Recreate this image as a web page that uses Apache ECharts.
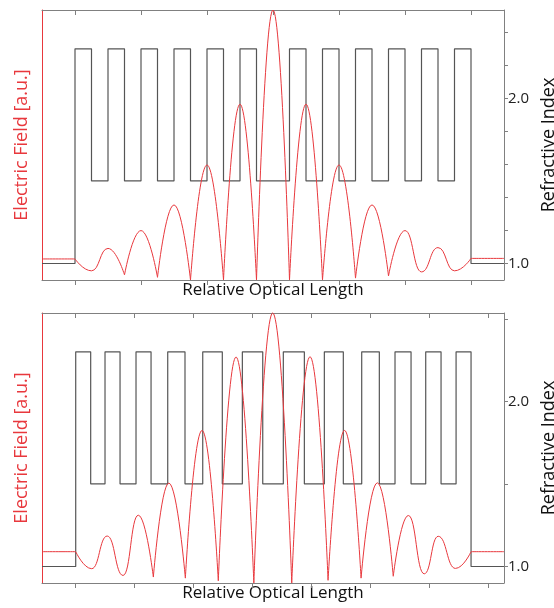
<!DOCTYPE html>
<html>
<head>
<meta charset="utf-8">
<script src="https://cdn.jsdelivr.net/npm/echarts@6/dist/echarts.min.js"></script>
<style>
  html, body { margin: 0; background: #fff; }
  #main { width: 554px; height: 608px; }
</style>
</head>
<body>
<div id="main"></div>
<script>
// upper panel: quarter-wave stack with a half-wave cavity in the middle
var topEdges = [-0.5, 0, 0.25, 0.5, 0.75, 1, 1.25, 1.5, 1.75, 2, 2.25, 2.5, 2.75,
                3.25, 3.5, 3.75, 4, 4.25, 4.5, 4.75, 5, 5.25, 5.5, 5.75, 6, 6.5];
var topIndex = [1.0, 2.3, 1.5, 2.3, 1.5, 2.3, 1.5, 2.3, 1.5, 2.3, 1.5, 2.3,
                1.5,
                2.3, 1.5, 2.3, 1.5, 2.3, 1.5, 2.3, 1.5, 2.3, 1.5, 2.3, 1.0];
var topField = [[-0.5, 0.078], [0, 0.078], [0.25, 0.034], [0.5, 0.117], [0.75, 0.019],
                [1, 0.183], [1.25, 0.010], [1.5, 0.278], [1.75, 0], [2, 0.426], [2.25, 0],
                [2.5, 0.651], [2.75, 0], [3, 1.0], [3.25, 0], [3.5, 0.651], [3.75, 0],
                [4, 0.426], [4.25, 0.007], [4.5, 0.278], [4.75, 0.015], [5, 0.183],
                [5.25, 0.030], [5.5, 0.120], [5.75, 0.034], [6, 0.080], [6.5, 0.080]];
var topTicks = [0, 1, 2, 3, 4, 5, 6];
var topIndexTicks = [1.0, 1.2, 1.4, 1.6, 1.8, 2.0, 2.2, 2.4];

// lower panel: chirped stack, layers get thicker towards the centre
var botEdges = [-0.572, 0, 0.254, 0.497, 0.752, 1.023, 1.278, 1.561, 1.854, 2.155, 2.487,
                2.827, 3.173, 3.522, 3.879, 4.218, 4.540, 4.852, 5.151, 5.417, 5.689,
                5.938, 6.198, 6.453, 6.707, 7.266];
var botIndex = [1.0, 2.3, 1.5, 2.3, 1.5, 2.3, 1.5, 2.3, 1.5, 2.3, 1.5, 2.3,
                1.5,
                2.3, 1.5, 2.3, 1.5, 2.3, 1.5, 2.3, 1.5, 2.3, 1.5, 2.3, 1.0];
var botField = [[-0.572, 0.116], [0, 0.116], [0.271, 0.053], [0.534, 0.174], [0.803, 0.028],
                [1.062, 0.251], [1.317, 0.022], [1.580, 0.370], [1.860, 0.018], [2.143, 0.565],
                [2.419, 0.008], [2.720, 0.837], [3.022, 0], [3.342, 1.0], [3.665, 0],
                [3.975, 0.838], [4.281, 0.010], [4.561, 0.565], [4.841, 0.018], [5.117, 0.371],
                [5.387, 0.025], [5.643, 0.250], [5.913, 0.034], [6.150, 0.173], [6.442, 0.054],
                [6.707, 0.116], [7.266, 0.116]];
var botTicks = [0, 1, 2, 3, 4, 5, 6, 7];
var botIndexTicks = [1.0, 1.5, 2.0, 2.5];

var indexLabels = [1.0, 2.0];

var RED = '#e8383d', GREY = '#808080', LINE = '#555';
var FONT = 'Open Sans';

function steps(edges, n) {
  var d = [];
  for (var i = 0; i < n.length; i++) d.push([edges[i], n[i]]);
  d.push([edges[edges.length - 1], n[n.length - 1]]);
  return d;
}

// break the curve at the nodes (sharp cusps) and where the stack starts/ends
function fieldLine(pts, edges) {
  var a = edges[1], b = edges[edges.length - 2], out = [];
  pts.forEach(function (p, i) {
    out.push(p);
    var brk = p[1] <= 0.025 || p[0] === a || p[0] === b;
    if (brk && i > 0 && i < pts.length - 1) {
      out.push([p[0], null]);
      out.push(p);
    }
  });
  return out;
}

function xAxes(g, edges, ticks) {
  var lo = edges[0], hi = edges[edges.length - 1];
  return [{
    type: 'value', gridIndex: g, min: lo, max: hi, position: 'bottom',
    name: 'Relative Optical Length', nameLocation: 'middle', nameGap: 2,
    nameTextStyle: { color: '#111', fontSize: 17, fontFamily: FONT, verticalAlign: 'top' },
    axisLine: { onZero: false, lineStyle: { color: GREY } },
    axisTick: { show: true, inside: false, length: 5, customValues: ticks, lineStyle: { color: GREY } },
    axisLabel: { show: false },
    splitLine: { show: false }
  }, {
    type: 'value', gridIndex: g, min: lo, max: hi, position: 'top',
    axisLine: { onZero: false, lineStyle: { color: GREY } },
    axisTick: { show: true, inside: true, length: 5, customValues: ticks, lineStyle: { color: GREY } },
    axisLabel: { show: false },
    splitLine: { show: false }
  }];
}

function yAxes(g, ticks) {
  return [{
    type: 'value', gridIndex: g, min: 0, max: 1, position: 'left',
    name: 'Electric Field [a.u.]', nameLocation: 'middle', nameGap: 11,
    nameTextStyle: { color: RED, fontSize: 18, fontFamily: FONT },
    axisLine: { show: true, onZero: false, lineStyle: { color: RED } },
    axisTick: { show: false }, axisLabel: { show: false }, splitLine: { show: false }
  }, {
    type: 'value', gridIndex: g, min: 0.9, max: 2.535, position: 'right',
    name: 'Refractive Index', nameLocation: 'middle', nameGap: 33,
    nameTextStyle: { color: '#111', fontSize: 18, fontFamily: FONT },
    axisLine: { show: true, onZero: false, lineStyle: { color: GREY } },
    axisTick: { show: true, length: 4, customValues: ticks, lineStyle: { color: GREY } },
    axisLabel: {
      show: true, margin: 4, customValues: indexLabels, color: '#222', fontSize: 15, fontFamily: FONT,
      formatter: function (v) { return v.toFixed(1); }
    },
    splitLine: { show: false }
  }];
}

var chart = echarts.init(document.getElementById('main'));
chart.setOption({
  animation: false,
  grid: [
    { left: 42, right: 50, top: 10, height: 270, outerBoundsMode: 'none' },
    { left: 42, right: 50, top: 313, height: 270, outerBoundsMode: 'none' }
  ],
  xAxis: xAxes(0, topEdges, topTicks).concat(xAxes(1, botEdges, botTicks)),
  yAxis: yAxes(0, topIndexTicks).concat(yAxes(1, botIndexTicks)),
  series: [
    { type: 'line', xAxisIndex: 0, yAxisIndex: 1, data: steps(topEdges, topIndex), step: 'end',
      symbol: 'none', lineStyle: { color: LINE, width: 1.2 } },
    { type: 'line', xAxisIndex: 0, yAxisIndex: 0, data: fieldLine(topField, topEdges),
      smooth: 0.5, smoothMonotone: 'x', clip: false,
      symbol: 'none', lineStyle: { color: RED, width: 1 } },
    { type: 'line', xAxisIndex: 2, yAxisIndex: 3, data: steps(botEdges, botIndex), step: 'end',
      symbol: 'none', lineStyle: { color: LINE, width: 1.2 } },
    { type: 'line', xAxisIndex: 2, yAxisIndex: 2, data: fieldLine(botField, botEdges),
      smooth: 0.5, smoothMonotone: 'x', clip: false,
      symbol: 'none', lineStyle: { color: RED, width: 1 } }
  ]
});
</script>
</body>
</html>
